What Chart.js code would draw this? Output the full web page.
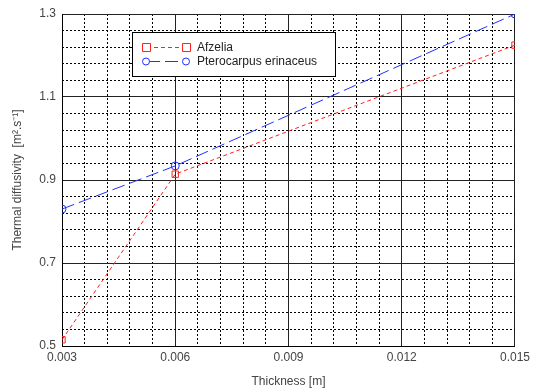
<!DOCTYPE html>
<html><head><meta charset="utf-8">
<script src="https://cdn.jsdelivr.net/npm/chart.js@4/dist/chart.umd.min.js"></script>
<style>html,body{margin:0;padding:0;background:#fff}#c{display:block}</style>
</head><body>
<canvas id="c" width="534" height="389"></canvas>
<script>
const thickness = [0.003, 0.006, 0.015];
const afzelia = [0.515, 0.914, 1.225];
const pterocarpus = [0.83, 0.934, 1.30];
const seriesNames = ['Afzelia', 'Pterocarpus erinaceus'];
const xTitle = 'Thickness [m]';
const yTitle = 'Thermal diffusivity  [m\u00B2.s\u207B\u00B9]';
const FONT = '"Liberation Sans", Arial, sans-serif';
const TXT = '#444';

const toPts = (ys) => thickness.map((x, i) => ({x, y: ys[i]}));

const overlay = {
  id: 'overlay',
  afterDraw(chart) {
    const ctx = chart.ctx, a = chart.chartArea;
    ctx.save();
    // axis titles
    ctx.fillStyle = TXT;
    ctx.font = '12px ' + FONT;
    ctx.textAlign = 'center'; ctx.textBaseline = 'middle';
    ctx.fillText(xTitle, (a.left + a.right) / 2, 382);
    ctx.translate(18, (a.top + a.bottom) / 2);
    ctx.rotate(-Math.PI / 2);
    ctx.fillText(yTitle, 0, 0);
    ctx.restore();
    // legend
    ctx.save();
    const bx = 132.5, by = 32.5, bw = 203, bh = 44;
    ctx.fillStyle = '#fff';
    ctx.fillRect(bx, by, bw, bh);
    ctx.strokeStyle = '#000'; ctx.lineWidth = 1;
    ctx.strokeRect(bx, by, bw, bh);
    const rows = [
      {y: 47, color: '#ff2020', dash: [4, 3], style: 'rect'},
      {y: 61, color: '#2030ff', dash: [13, 5], style: 'circle'}
    ];
    rows.forEach((r, i) => {
      ctx.strokeStyle = r.color; ctx.lineWidth = 1;
      ctx.setLineDash(r.dash);
      ctx.beginPath(); ctx.moveTo(147, r.y + 0.5); ctx.lineTo(186, r.y + 0.5); ctx.stroke();
      ctx.setLineDash([]);
      [146, 186].forEach(px => {
        ctx.fillStyle = '#fff';
        ctx.beginPath();
        if (r.style === 'rect') { ctx.rect(px - 3.5, r.y - 3.5, 8, 8); }
        else { ctx.arc(px, r.y + 0.5, 3.5, 0, Math.PI * 2); }
        ctx.fill(); ctx.stroke();
      });
      ctx.fillStyle = '#222';
      ctx.font = '12px ' + FONT;
      ctx.textAlign = 'left'; ctx.textBaseline = 'middle';
      ctx.fillText(seriesNames[i], 197, r.y + 1);
    });
    ctx.restore();
  }
};

new Chart(document.getElementById('c'), {
  type: 'line',
  data: {
    datasets: [
      {label: seriesNames[0], data: toPts(afzelia), borderColor: '#ff2020', borderWidth: 1,
       borderDash: [4, 3], pointStyle: 'rect', pointRadius: 4.5, pointBorderColor: '#ff2020',
       pointBackgroundColor: 'rgba(255,255,255,0)', pointBorderWidth: 1, clip: 0, tension: 0},
      {label: seriesNames[1], data: toPts(pterocarpus), borderColor: '#2030ff', borderWidth: 1,
       borderDash: [13, 5], pointStyle: 'circle', pointRadius: 4, pointBorderColor: '#2030ff',
       pointBackgroundColor: 'rgba(255,255,255,0)', pointBorderWidth: 1, clip: 0, tension: 0}
    ]
  },
  options: {
    responsive: false, animation: false, devicePixelRatio: 1,
    layout: {padding: {left: 0, right: 17, top: 14, bottom: 0}},
    plugins: {legend: {display: false}, tooltip: {enabled: false}},
    scales: {
      xMinor: {type: 'linear', position: 'bottom', min: 0.003, max: 0.015,
        ticks: {display: false, stepSize: 0.0006}, grid: {color: '#000', lineWidth: 1, drawTicks: false},
        border: {display: false, dash: [2, 2]},
        afterFit(s) { s.height = 0; }},
      x: {type: 'linear', position: 'bottom', min: 0.003, max: 0.015,
        ticks: {stepSize: 0.003, color: TXT, font: {size: 12, family: FONT}, padding: 4,
          callback: v => v.toFixed(3), maxRotation: 0},
        grid: {color: '#222', lineWidth: 1, drawTicks: false},
        border: {display: true, color: '#000', width: 1},
        afterFit(s) { s.height = 43; }},
      yMinor: {type: 'linear', position: 'left', min: 0.5, max: 1.3,
        ticks: {display: false, stepSize: 0.04}, grid: {color: '#000', lineWidth: 1, drawTicks: false},
        border: {display: false, dash: [2, 2]},
        afterFit(s) { s.width = 0; }},
      y: {type: 'linear', position: 'left', min: 0.5, max: 1.3,
        ticks: {stepSize: 0.2, color: TXT, font: {size: 12, family: FONT}, padding: 6,
          callback: v => v.toFixed(1)},
        grid: {color: '#222', lineWidth: 1, drawTicks: false},
        border: {display: true, color: '#000', width: 1},
        afterFit(s) { s.width = 62; }}
    }
  },
  plugins: [overlay]
});
</script>
</body></html>
